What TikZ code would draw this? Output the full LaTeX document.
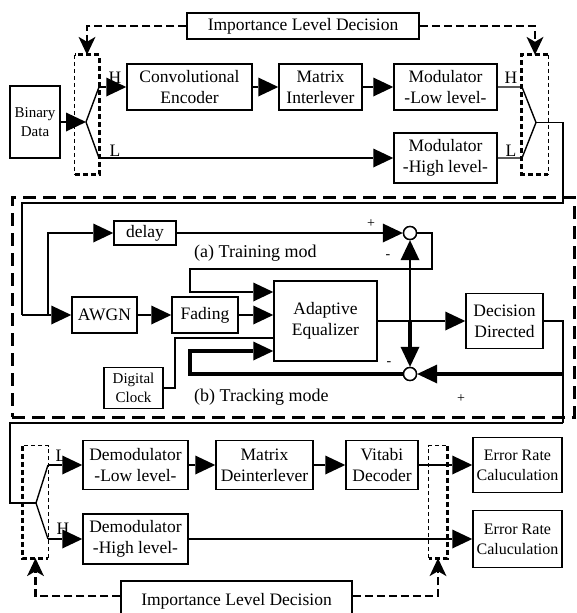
\documentclass[tikz,border=0pt]{standalone}
\usepackage{fontspec}
\setmainfont{Liberation Serif}
\usetikzlibrary{arrows.meta}
\begin{document}
\begin{tikzpicture}[x=1pt,y=-1pt,
  box/.style={draw, line width=1.5pt, inner sep=0pt, align=center, font=\fontsize{17.5}{21}\selectfont},
  sbox/.style={box, font=\fontsize{15}{19}\selectfont},
  ebox/.style={box, font=\fontsize{16}{20}\selectfont},
  ln/.style={line width=1.4pt},
  tk/.style={line width=4pt},
  ar/.style={-{Triangle[length=20pt,width=19pt,line width=0pt]}},
  darr/.style={line width=2.5pt, dash pattern=on 8pt off 4pt, -{Stealth[length=18pt,width=17pt,inset=5pt,line width=0pt]}},
  thickdash/.style={line width=2.8pt, dash pattern=on 5pt off 3pt},
  thindash/.style={line width=0.8pt, dash pattern=on 4pt off 3pt},
  bigdash/.style={line width=3pt, dash pattern=on 13pt off 7pt},
  lbl/.style={inner sep=0pt, font=\fontsize{17.5}{21}\selectfont},
  mlbl/.style={inner sep=0pt, font=\fontsize{18}{21}\selectfont},
  pm/.style={inner sep=0pt, font=\fontsize{14}{16}\selectfont},
  sw/.style={inner sep=0pt, draw=none},
  cmp/.style={circle, draw, fill=white, line width=1.4pt, minimum size=13pt, inner sep=0pt}
]
\useasboundingbox (0,0) rectangle (577,613);

% ---------- top section ----------
\node[box, minimum width=232pt, minimum height=26pt] (imp1) at (303,26) {Importance Level Decision};
\node[sw, minimum width=24pt, minimum height=119pt] (sw1) at (87,114.5) {};
\node[sw, minimum width=26pt, minimum height=119pt] (sw2) at (535,114.5) {};
\node[sbox, minimum width=50pt, minimum height=72pt] (bin) at (35,122) {Binary\\Data};
\coordinate (p1) at (86,122);
\coordinate (c1h) at (99,87);
\coordinate (c1l) at (99,158);
\node[box, minimum width=125pt, minimum height=46pt] (conv) at (189.5,87) {Convolutional\\Encoder};
\node[box, minimum width=83pt, minimum height=46pt] (mint) at (320.5,87) {Matrix\\Interlever};
\node[box, minimum width=103pt, minimum height=46pt] (modl) at (445.5,87) {Modulator\\-Low level-};
\node[box, minimum width=103pt, minimum height=50pt] (modh) at (445.5,158) {Modulator\\-High level-};
\coordinate (c2h) at (522,87);
\coordinate (c2l) at (522,158);
\coordinate (p2) at (536,122.5);
\coordinate (r1) at (563,122.5);
\coordinate (r2) at (563,203);
\coordinate (l1) at (22,203);
\coordinate (l2) at (22,315);
\coordinate (b1) at (48,315);
\coordinate (b2) at (48,233);

\draw[darr] (imp1.west) -| (sw1.north);
\draw[darr] (imp1.east) -| (sw2.north);
\draw[thindash] (sw1.north west) -- (sw1.south west);
\draw[thickdash] (sw1.south west) -- (sw1.south east) -- (sw1.north east) -- (sw1.north west);
\draw[thickdash] (sw2.north east) -- (sw2.north west) -- (sw2.south west) -- (sw2.south east);
\draw[thindash] (sw2.north east) -- (sw2.south east);

\draw[ln, ar] (bin.east |- p1) -- (p1);
\draw[ln] (c1h) -- (p1) -- (c1l);
\draw[ln, ar] (c1h) -- (conv.west);
\draw[ln, ar] (c1l) -- (modh.west);
\draw[ln, ar] (conv) -- (mint);
\draw[ln, ar] (mint) -- (modl);
\draw[ln] (modl.east) -- (c2h) -- (p2) -- (c2l) -- (modh.east);
\node[lbl] (h1) at (115,78) {H};
\node[lbl] (lo1) at (115,151) {L};
\node[lbl] (h2) at (511,78) {H};
\node[lbl] (lo2) at (511,151) {L};

% ---------- middle section ----------
\node[draw, bigdash, minimum width=562pt, minimum height=220pt, inner sep=0pt] (frame) at (293,307) {};
\draw[ln] (p2) -- (r1) -- (r2) -- (l1) -- (l2);

\node[box, minimum width=62pt, minimum height=24pt] (delay) at (145,233) {delay};
\node[box, minimum width=65pt, minimum height=36pt] (awgn) at (104.5,315) {AWGN};
\node[box, minimum width=66pt, minimum height=36pt] (fad) at (205,315) {Fading};
\node[box, minimum width=103pt, minimum height=80pt] (ae) at (325.5,321) {Adaptive\\Equalizer};
\node[box, minimum width=77pt, minimum height=55pt] (dd) at (504.5,321) {Decision\\Directed};
\node[sbox, minimum width=59pt, minimum height=41pt] (clk) at (133.5,388) {Digital\\Clock};
\node[cmp] (cmp1) at (410,233) {};
\node[cmp] (cmp2) at (410,374) {};

\coordinate (t1) at (432,233);
\coordinate (t2) at (432,269);
\coordinate (t3) at (190,269);
\coordinate (t4) at (190,292);
\coordinate (br) at (410,321);
\coordinate (d1) at (563,321);
\coordinate (d2) at (563,374);
\coordinate (d3) at (563,423);
\coordinate (d4) at (10,423);
\coordinate (d5) at (10,503);
\coordinate (k1) at (190,374);
\coordinate (k2) at (190,351);
\coordinate (q1) at (175,388);
\coordinate (q2) at (175,338);

\draw[ln, ar] (l2) -- (awgn.west);
\draw[ln, ar] (b1) -- (b2) -- (delay.west);
\draw[ln, ar] (awgn) -- (fad);
\draw[ln, ar] (fad.east) -- (ae.west |- fad.east);
\draw[ln, ar] (delay.east) -- (cmp1.west);
\draw[ln, ar] (cmp1.east) -- (t1) -- (t2) -- (t3) -- (t4) -- (ae.west |- t4);
\draw[ln, ar] (ae.east) -- (dd.west);
\draw[ln, ar] (br) -- (cmp1.south);
\draw[tk, ar] (br) -- (cmp2.north);
\draw[ln] (dd.east) -- (d1) -- (d3);
\draw[tk, ar] (d2) -- (cmp2.east);
\draw[tk, ar] (cmp2.west) -- (k1) -- (k2) -- (ae.west |- k2);
\draw[ln] (clk.east) -- (q1) -- (q2) -- (ae.west |- q2);
\node[cmp] at (cmp1) {};
\node[cmp] at (cmp2) {};

\node[mlbl, anchor=west] (ta) at (194,253) {(a) Training mod};
\node[mlbl, anchor=west] (tb) at (194,397) {(b) Tracking mode};
\node[pm] (pl1) at (371,224) {+};
\node[pm] (mi1) at (388,257) {-};
\node[pm] (mi2) at (389,364) {-};
\node[pm] (pl2) at (461,399) {+};

% ---------- bottom section ----------
\node[sw, minimum width=25pt, minimum height=112pt] (sw3) at (35.5,502) {};
\node[sw, minimum width=18pt, minimum height=112pt] (sw4) at (438,502) {};
\coordinate (p3) at (36,503);
\coordinate (c3l) at (48,465);
\coordinate (c3h) at (48,539);
\node[box, minimum width=105pt, minimum height=49pt] (deml) at (135.5,465) {Demodulator\\-Low level-};
\node[box, minimum width=105pt, minimum height=50pt] (demh) at (135.5,539) {Demodulator\\-High level-};
\node[box, minimum width=97pt, minimum height=49pt] (mdei) at (264.5,465) {Matrix\\Deinterlever};
\node[box, minimum width=72pt, minimum height=49pt] (vit) at (382,465) {Vitabi\\Decoder};
\node[ebox, minimum width=89pt, minimum height=55pt] (er1) at (517.5,465) {Error Rate\\Caluculation};
\node[ebox, minimum width=89pt, minimum height=57pt] (er2) at (517.5,539) {Error Rate\\Caluculation};
\node[box, minimum width=231pt, minimum height=40pt] (imp2) at (236.5,601) {Importance Level Decision};

\draw[ln] (d3) -- (d4) -- (d5) -- (p3);
\draw[ln] (c3l) -- (p3) -- (c3h);
\draw[ln, ar] (c3l) -- (deml.west);
\draw[ln, ar] (c3h) -- (demh.west);
\draw[ln, ar] (deml) -- (mdei);
\draw[ln, ar] (mdei) -- (vit);
\draw[ln, ar] (vit) -- (er1);
\draw[ln, ar] (demh) -- (er2);
\node[lbl] (lo3) at (61,456) {L};
\node[lbl] (h3) at (63,529) {H};

\draw[thickdash] (sw3.north west) -- (sw3.south west) -- (sw3.south east);
\draw[thindash] (sw3.south east) -- (sw3.north east) -- (sw3.north west);
\draw[thindash] (sw4.south west) -- (sw4.north west) -- (sw4.north east);
\draw[thickdash] (sw4.north east) -- (sw4.south east) -- (sw4.south west);

\draw[darr] ([yshift=5pt]imp2.west) -| (sw3.south);
\draw[darr] ([yshift=5pt]imp2.east) -| (sw4.south);
\end{tikzpicture}
\end{document}
